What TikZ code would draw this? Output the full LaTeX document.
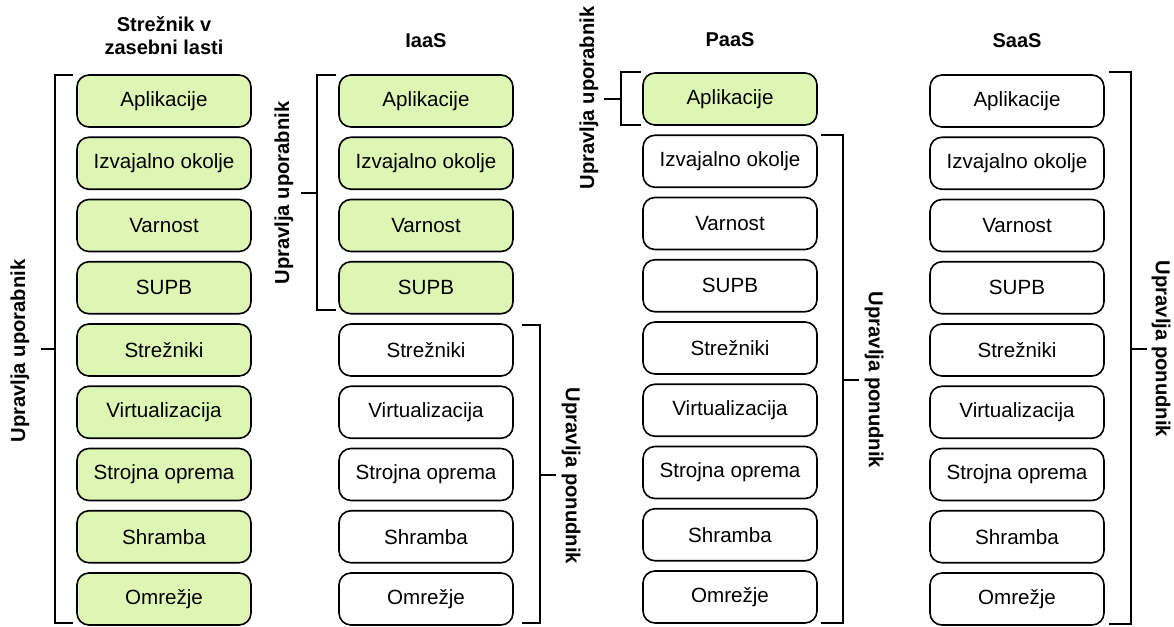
\documentclass[tikz,border=0pt]{standalone}
\usepackage{fontspec}
\setmainfont{Liberation Sans}
\definecolor{boxgreen}{RGB}{222,246,180}
\begin{document}
\begin{tikzpicture}[x=1pt,y=-1pt,
  layer/.style={draw=black, line width=1.6pt, rounded corners=12pt,
    minimum width=174pt, minimum height=52pt, inner sep=0pt,
    font=\fontsize{20.6}{24}\selectfont, text=black},
  userbox/.style={layer, fill=boxgreen},
  provbox/.style={layer, fill=white},
  brace/.style={line width=2.4pt, line cap=rect},
  title/.style={font=\bfseries\fontsize{20}{23}\selectfont, align=center},
  side/.style={font=\bfseries\fontsize{20.2}{24}\selectfont, inner sep=0pt}]
\useasboundingbox (0,0) rectangle (1174,626);

% titles
\node[title] (t1) at (164,36) {Strežnik v\\zasebni lasti};
\node[title] (t2) at (426,41) {IaaS};
\node[title] (t3) at (730,40) {PaaS};
\node[title] (t4) at (1017,41) {SaaS};

% column 1: all managed by user
\foreach \t [count=\i] in {Aplikacije,Izvajalno okolje,Varnost,SUPB,Strežniki,Virtualizacija,Strojna oprema,Shramba,Omrežje}{
  \node[userbox] (a\i) at (164,{101+(\i-1)*62.25}) {\t};
}
% column 2: IaaS
\foreach \t [count=\i] in {Aplikacije,Izvajalno okolje,Varnost,SUPB,Strežniki,Virtualizacija,Strojna oprema,Shramba,Omrežje}{
  \ifnum\i<5 \def\st{userbox}\else\def\st{provbox}\fi
  \node[\st] (b\i) at (426,{101+(\i-1)*62.25}) {\t};
}
% column 3: PaaS
\foreach \t [count=\i] in {Aplikacije,Izvajalno okolje,Varnost,SUPB,Strežniki,Virtualizacija,Strojna oprema,Shramba,Omrežje}{
  \ifnum\i<2 \def\st{userbox}\else\def\st{provbox}\fi
  \node[\st] (c\i) at (730,{99+(\i-1)*62.25}) {\t};
}
% column 4: SaaS
\foreach \t [count=\i] in {Aplikacije,Izvajalno okolje,Varnost,SUPB,Strežniki,Virtualizacija,Strojna oprema,Shramba,Omrežje}{
  \node[provbox] (d\i) at (1017,{101+(\i-1)*62.25}) {\t};
}

% brackets column 1
\draw[brace] (72,75) -- (55,75) -- (55,623) -- (72,623);
\draw[brace] (55,349) -- (42,349);
\node[side, rotate=90] (l1) at (20,351) {Upravlja uporabnik};

% brackets column 2
\draw[brace] (335,75) -- (317,75) -- (317,310) -- (335,310);
\draw[brace] (317,193) -- (302,193);
\node[side, rotate=90] (l2) at (284,193) {Upravlja uporabnik};
\draw[brace] (523,325) -- (540,325) -- (540,623) -- (523,623);
\draw[brace] (540,475) -- (555,475);
\node[side, rotate=-90] (l3) at (571,476) {Upravlja ponudnik};

% brackets column 3
\draw[brace] (640,72) -- (621,72) -- (621,125) -- (640,125);
\draw[brace] (621,99) -- (605,99);
\node[side, rotate=90] (l4) at (589,98) {Upravlja uporabnik};
\draw[brace] (822,135) -- (843,135) -- (843,623) -- (822,623);
\draw[brace] (843,380) -- (858,380);
\node[side, rotate=-90] (l5) at (874,380) {Upravlja ponudnik};

% brackets column 4
\draw[brace] (1110,72) -- (1131,72) -- (1131,624) -- (1110,624);
\draw[brace] (1131,349) -- (1146,349);
\node[side, rotate=-90] (l6) at (1161,349) {Upravlja ponudnik};
\end{tikzpicture}
\end{document}
